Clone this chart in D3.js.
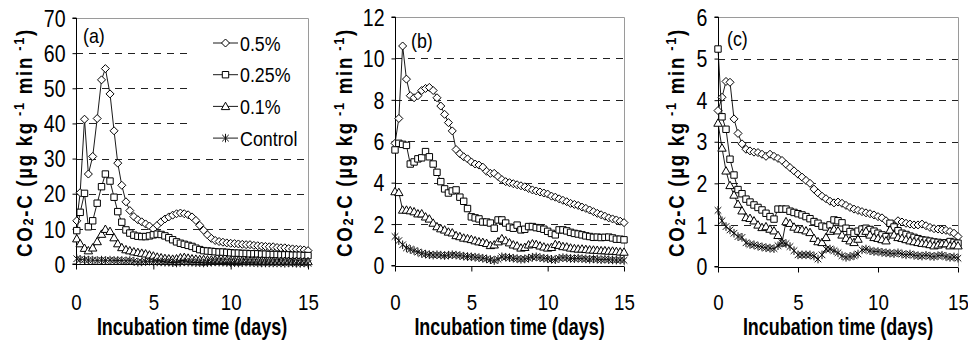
<!DOCTYPE html>
<html><head><meta charset="utf-8">
<script src="https://cdn.jsdelivr.net/npm/d3@7"></script>
<style>body{margin:0;background:#fff}svg{display:block}</style>
</head><body>
<svg id="chart" width="968" height="345"></svg>
<script>
// ---------- DATA ----------
const seriesNames = ["0.5%", "0.25%", "0.1%", "Control"];
const xTicks = [0, 5, 10, 15];
const yTicksA = [0, 10, 20, 30, 40, 50, 60, 70];
const yTicksB = [0, 2, 4, 6, 8, 10, 12];
const yTicksC = [0, 1, 2, 3, 4, 5, 6];

// sampling times (days), panel (a)
const timesA = [0.05,0.27,0.55,0.8,1.08,1.37,1.65,1.9,2.2,2.46,2.7,2.96,3.23,3.48,3.74,
  4,4.25,4.5,4.75,5,5.25,5.5,5.75,6,6.25,6.5,6.75,7,7.25,7.5,7.75,8,8.25,8.5,8.75,9,
  9.25,9.5,9.75,10,10.25,10.5,10.75,11,11.25,11.5,11.75,12,12.25,12.5,12.75,13,
  13.25,13.5,13.75,14,14.25,14.5,14.75,15];
// sampling times (days), panels (b) and (c)
const timesBC = [0,0.25,0.5,0.75,1,1.25,1.5,1.75,2,2.25,2.5,2.75,3,3.25,3.5,3.75,
  4,4.25,4.5,4.75,5,5.25,5.5,5.75,6,6.25,6.5,6.75,7,7.25,7.5,7.75,8,8.25,8.5,8.75,9,
  9.25,9.5,9.75,10,10.25,10.5,10.75,11,11.25,11.5,11.75,12,12.25,12.5,12.75,13,
  13.25,13.5,13.75,14,14.25,14.5,14.75,15];

// panel (a)
const a_05 = [12.3,20.3,41.2,25.6,30.6,41.4,52.4,55.6,48.4,37.9,28.7,22.4,17.7,15.2,13.5,
  12.6,12.0,11.4,10.8,10.0,11.0,12.0,12.8,13.4,13.9,14.3,14.5,14.3,14.0,13.4,12.4,11.0,
  9.6,8.3,7.3,6.7,6.4,6.2,6.0,5.9,5.8,5.7,5.6,5.5,5.5,5.3,5.2,5.1,5.0,4.9,4.9,4.7,
  4.6,4.6,4.4,4.3,4.2,4.1,4.0,3.8];
const a_025 = [9.5,14.7,20.1,10.6,12.3,17.3,22.0,25.6,23.6,19.0,14.9,11.9,9.7,8.8,8.2,
  7.9,7.8,7.8,8.0,8.3,8.5,8.4,8.0,7.5,6.9,6.3,5.9,5.6,5.3,5.0,4.5,4.1,
  3.8,3.7,3.6,3.5,3.4,3.4,3.3,3.2,3.1,3.1,3.0,3.0,2.9,2.9,2.9,2.8,2.8,2.7,2.7,2.7,
  2.6,2.6,2.6,2.5,2.5,2.5,2.4,2.4];
const a_01 = [7.2,5.8,4.5,3.8,4.6,6.4,8.5,9.9,9.3,7.5,5.8,4.7,4.1,3.8,3.5,
  3.3,3.1,2.9,2.6,2.3,2.0,1.8,1.6,1.5,1.4,1.5,1.8,1.9,1.7,1.5,1.4,1.3,
  1.3,1.2,1.2,1.2,1.1,1.1,1.1,1.0,1.0,1.0,1.0,0.9,0.9,0.9,0.9,0.9,0.8,0.9,0.8,0.8,
  0.8,0.8,0.8,0.7,0.8,0.7,0.7,0.7];
const a_ctl = [1.5,1.3,1.2,1.1,1.1,1.0,1.1,1.0,1.1,1.0,1.0,1.0,0.9,1.0,0.8,
  0.5,0.6,0.7,0.8,0.7,0.6,0.6,0.5,0.5,0.4,0.3,0.5,0.6,0.5,0.5,0.4,0.4,
  0.3,0.4,0.5,0.6,0.5,0.5,0.4,0.4,0.4,0.3,0.4,0.5,0.4,0.4,0.3,0.3,0.3,0.3,0.3,0.3,
  0.3,0.2,0.3,0.3,0.2,0.2,0.3,0.2];

// panel (b)
const b_05 = [5.9,7.1,10.6,9.0,8.2,8.1,8.2,8.45,8.55,8.6,8.45,8.1,7.7,7.3,6.9,6.5,
  5.6,5.4,5.25,5.15,5.0,4.9,4.85,4.75,4.55,4.45,4.45,4.3,4.15,4.05,4.0,3.95,3.9,3.85,3.8,3.72,3.65,
  3.6,3.55,3.5,3.45,3.35,3.3,3.22,3.15,3.08,3.0,2.95,2.9,2.82,2.76,2.68,2.6,
  2.52,2.45,2.38,2.3,2.25,2.2,2.14,2.07];
const b_025 = [5.58,5.9,5.85,5.8,4.9,5.0,5.15,5.2,5.5,5.25,4.9,4.5,4.05,3.7,3.5,3.6,
  3.65,3.3,3.1,2.75,2.35,2.3,2.25,2.1,2.1,2.05,1.8,2.2,2.2,2.05,1.85,1.8,1.95,1.72,1.75,1.88,1.88,
  1.83,1.8,1.75,1.65,1.55,1.48,1.72,1.72,1.67,1.6,1.55,1.52,1.48,1.43,1.4,1.36,
  1.37,1.35,1.36,1.37,1.33,1.27,1.27,1.24];
const b_01 = [3.57,3.53,2.68,2.68,2.65,2.6,2.5,2.5,2.35,2.25,2.05,1.88,1.78,1.72,1.62,1.58,
  1.45,1.4,1.33,1.3,1.26,1.2,1.15,1.12,1.07,0.97,1.0,1.15,1.3,1.2,1.1,1.0,0.95,0.85,0.88,1.0,1.05,
  1.02,0.95,0.9,0.85,0.88,1.02,0.98,0.92,0.9,0.85,0.82,0.8,0.8,0.78,0.76,0.75,
  0.74,0.72,0.72,0.7,0.7,0.68,0.66,0.65];
const b_ctl = [1.4,1.2,1.0,0.85,0.78,0.72,0.65,0.58,0.55,0.52,0.5,0.52,0.5,0.48,0.5,0.52,
  0.5,0.48,0.45,0.43,0.42,0.4,0.38,0.35,0.32,0.28,0.24,0.3,0.42,0.4,0.38,0.35,0.33,0.3,0.32,0.35,0.4,
  0.42,0.38,0.35,0.33,0.3,0.28,0.35,0.38,0.36,0.34,0.33,0.35,0.33,0.32,0.3,0.32,
  0.3,0.28,0.3,0.28,0.27,0.26,0.27,0.25];

// panel (c)
const c_05 = [3.75,4.07,4.45,4.43,3.55,3.2,2.95,2.82,2.78,2.75,2.74,2.7,2.65,2.7,2.65,2.6,
  2.55,2.46,2.38,2.3,2.22,2.15,2.07,2.0,1.86,1.77,1.69,1.63,1.57,1.53,1.55,1.52,1.47,1.42,1.38,1.35,1.32,
  1.29,1.27,1.24,1.2,1.17,1.1,1.0,0.97,1.1,1.07,1.04,1.02,1.0,1.0,1.02,0.98,
  0.94,0.91,0.9,0.88,0.87,0.84,0.8,0.72];
const c_025 = [5.23,3.6,3.3,2.58,2.2,1.85,1.75,1.62,1.55,1.48,1.42,1.36,1.28,1.2,1.14,1.38,
  1.38,1.38,1.33,1.3,1.27,1.24,1.2,1.15,1.08,1.04,0.97,0.95,1.0,1.12,1.1,1.05,0.92,0.84,0.8,0.85,0.9,
  0.92,0.89,0.85,0.8,0.76,0.72,1.04,0.95,0.86,0.8,0.77,0.73,0.7,0.67,0.64,0.63,
  0.61,0.59,0.58,0.56,0.57,0.6,0.58,0.56];
const c_01 = [3.45,2.85,2.3,1.95,1.72,1.5,1.34,1.18,1.16,1.1,1.0,0.94,0.96,0.9,0.86,0.75,
  0.57,1.08,1.04,0.95,0.9,0.89,0.86,0.82,0.68,0.6,0.58,0.7,0.85,0.9,0.86,0.76,0.68,0.62,0.58,0.66,0.8,
  0.85,0.76,0.7,0.68,0.65,0.62,0.88,0.76,0.7,0.68,0.65,0.62,0.6,0.58,0.56,0.55,
  0.53,0.5,0.52,0.55,0.55,0.5,0.52,0.5];
const c_ctl = [1.35,1.1,0.96,0.88,0.8,0.72,0.7,0.57,0.53,0.52,0.49,0.47,0.45,0.44,0.43,0.5,
  0.57,0.55,0.48,0.38,0.28,0.28,0.28,0.28,0.25,0.18,0.28,0.42,0.42,0.38,0.33,0.26,0.22,0.24,0.26,0.3,0.4,
  0.42,0.38,0.36,0.36,0.34,0.33,0.32,0.31,0.33,0.3,0.28,0.3,0.27,0.26,0.25,0.27,
  0.25,0.24,0.26,0.27,0.24,0.22,0.23,0.2];

// ---------- LAYOUT ----------
const panels = [
  {label: "(a)", times: timesA, series: [a_05, a_025, a_01, a_ctl], yTicks: yTicksA,
   x0: 76, x1: 308, yTop: 18, yBot: 264, titleX: 32, labelX: 83, labelY: 43, legend: true},
  {label: "(b)", times: timesBC, series: [b_05, b_025, b_01, b_ctl], yTicks: yTicksB,
   x0: 395, x1: 624, yTop: 17, yBot: 265.5, titleX: 352, labelX: 411, labelY: 48, legend: false},
  {label: "(c)", times: timesBC, series: [c_05, c_025, c_01, c_ctl], yTicks: yTicksC,
   x0: 718, x1: 958, yTop: 17, yBot: 266.5, titleX: 684, labelX: 727, labelY: 46, legend: false}
];

const FONT = "'Liberation Sans', Arial, sans-serif";
const SX = 0.85; // horizontal squeeze of the lettering
const svg = d3.select("#chart");
svg.append("rect").attr("width", 968).attr("height", 345).attr("fill", "#fff");

const markerPaths = [
  "M0,-4L4,0L0,4L-4,0Z",                              // diamond
  "M-3.2,-3.2L3.2,-3.2L3.2,3.2L-3.2,3.2Z",            // square
  "M0,-4.2L4.2,3.2L-4.2,3.2Z",                        // triangle
  "M-3.3,-3.3L3.3,3.3M-3.3,3.3L3.3,-3.3M0,-4.3L0,4.3" // star
];

function drawMarker(g, i, x, y) {
  g.append("path")
    .attr("d", markerPaths[i])
    .attr("transform", `translate(${x},${y})`)
    .attr("fill", i === 3 ? "none" : "#fff")
    .attr("stroke", i === 3 ? "#111" : "#000")
    .attr("stroke-width", 1);
}

function sText(g, x, y, str, size, anchor, bold, sx) {
  return g.append("text")
    .attr("transform", `translate(${x},${y}) scale(${sx || SX},1)`)
    .attr("text-anchor", anchor || "start")
    .attr("font-family", FONT).attr("font-size", size)
    .attr("font-weight", bold ? "bold" : "normal")
    .attr("fill", "#000")
    .text(str);
}

panels.forEach(p => {
  const ymax = p.yTicks[p.yTicks.length - 1];
  const x = d3.scaleLinear().domain([0, 15]).range([p.x0, p.x1]);
  const y = d3.scaleLinear().domain([0, ymax]).range([p.yBot, p.yTop]);
  const g = svg.append("g");

  // gridlines (dashed), excluding 0 and top
  g.append("g").selectAll("line").data(p.yTicks.filter(v => v > 0 && v < ymax)).join("line")
    .attr("x1", p.x0).attr("x2", p.x1)
    .attr("y1", d => Math.round(y(d)) + 0.5).attr("y2", d => Math.round(y(d)) + 0.5)
    .attr("stroke", "#222").attr("stroke-width", 1).attr("stroke-dasharray", "7,6");

  // plot area border (top, right) gray
  g.append("path")
    .attr("d", `M${p.x0},${Math.round(p.yTop) + 0.5}H${Math.round(p.x1) + 0.5}V${p.yBot}`)
    .attr("fill", "none").attr("stroke", "#9a9a9a").attr("stroke-width", 1);

  // legend background (white box hides gridlines)
  if (p.legend) {
    g.append("rect").attr("x", 193).attr("y", 22).attr("width", 114).attr("height", 128)
      .attr("fill", "#fff");
  }

  // axes
  const yAxis = d3.axisLeft(y).tickValues(p.yTicks).tickSize(4).tickPadding(0)
    .tickFormat(d3.format("d"));
  const ya = g.append("g").attr("transform", `translate(${Math.round(p.x0) + 0.5},0)`).call(yAxis);
  const xAxis = d3.axisBottom(x).tickValues(xTicks).tickSize(5).tickPadding(0)
    .tickFormat(d3.format("d"));
  const xa = g.append("g").attr("transform", `translate(0,${Math.round(p.yBot) + 0.5})`).call(xAxis);
  [ya, xa].forEach(a => {
    a.select(".domain").attr("stroke", "#000");
    a.selectAll(".tick line").attr("stroke", "#000");
    a.selectAll("text").attr("font-family", FONT).attr("fill", "#000");
  });
  ya.selectAll(".tick text").attr("x", null).attr("dy", null).attr("font-size", 23)
    .attr("transform", `translate(-11,8.2) scale(${SX},1)`);
  xa.selectAll(".tick text").attr("y", null).attr("dy", null).attr("font-size", 22)
    .attr("transform", `translate(0,${309.5 - Math.round(p.yBot) - 0.5}) scale(${SX},1)`);
  ya.select(".domain").attr("d", `M-4,${p.yTop}H0V${p.yBot}H-4`);
  xa.select(".domain").attr("d", `M${p.x0},0H${p.x1}`);

  // series
  const line = d3.line().x((d, i) => x(p.times[i])).y(d => y(d));
  p.series.forEach((vals, si) => {
    const sg = g.append("g");
    sg.append("path").datum(vals).attr("d", line)
      .attr("fill", "none").attr("stroke", "#000").attr("stroke-width", 0.9);
    vals.forEach((v, i) => drawMarker(sg, si, x(p.times[i]), y(v)));
  });

  // panel label
  sText(g, p.labelX, p.labelY, p.label, 21);

  // x title
  sText(g, (p.x0 + p.x1) / 2, 335, "Incubation time (days)", 23, "middle", true, 0.78);

  // y title (rotated), squeezed along the text direction, spaced to full length
  const yt = g.append("text")
    .attr("transform", `translate(${p.titleX},143) rotate(-90) scale(${SX},1)`)
    .attr("text-anchor", "middle").attr("font-family", FONT).attr("font-size", 22)
    .attr("font-weight", "bold").attr("fill", "#000");
  yt.append("tspan").text("CO");
  yt.append("tspan").attr("font-size", 15).attr("dy", 1).text("2");
  yt.append("tspan").attr("dy", -1).text("-C  (µg kg");
  yt.append("tspan").attr("font-size", 15).attr("dy", -8).text(" -1");
  yt.append("tspan").attr("dy", 8).text("  min");
  yt.append("tspan").attr("font-size", 15).attr("dy", -8).text(" -1");
  yt.append("tspan").attr("dy", 8).text(")");
  const nChars = yt.text().length;
  let ls = 0;
  for (let k = 0; k < 4; k++) {
    const r = yt.node().getBoundingClientRect();
    ls += (229 - r.height) / SX / (nChars - 1);
    yt.attr("letter-spacing", ls + "px");
  }
  const r = yt.node().getBoundingClientRect();
  const shift = (28 + 257) / 2 - (r.top + r.bottom) / 2;
  yt.attr("transform", `translate(${p.titleX},${143 + shift}) rotate(-90) scale(${SX},1)`);

  // legend
  if (p.legend) {
    seriesNames.forEach((name, i) => {
      const ly = 43 + i * 31.7;
      const lg = g.append("g");
      lg.append("line").attr("x1", 213).attr("x2", 238).attr("y1", ly).attr("y2", ly)
        .attr("stroke", "#000").attr("stroke-width", 0.9);
      drawMarker(lg, i, 225.5, ly);
      sText(lg, 240, ly + 7.5, name, 21);
    });
  }
});
</script>
</body></html>
